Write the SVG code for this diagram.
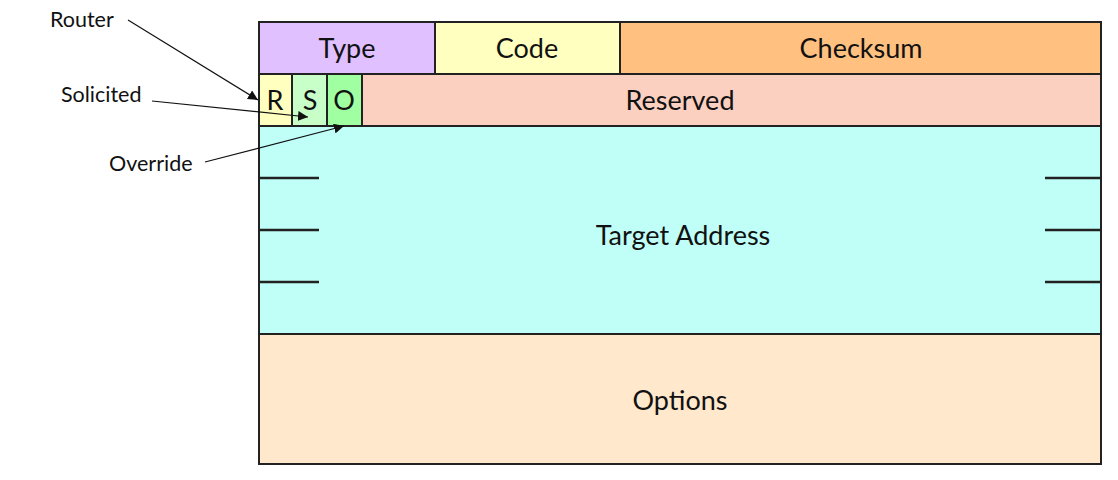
<svg xmlns="http://www.w3.org/2000/svg" width="1118" height="480" viewBox="0 0 1118 480">
<defs>
<style>
.f{stroke:#222;stroke-width:2}
.t{font-family:Lato,"Open Sans",sans-serif;font-size:27px;fill:#111;text-anchor:middle}
.l{font-family:Lato,"Open Sans",sans-serif;font-size:21.5px;fill:#111}
.tick{stroke:#222;stroke-width:2.5}
.c{stroke:#111;stroke-width:1.2;fill:none;marker-end:url(#ah)}
</style>
<marker id="ah" viewBox="0 0 10 10" refX="10" refY="5" markerWidth="10" markerHeight="10" markerUnits="userSpaceOnUse" orient="auto">
<path d="M0,0 L10,5 L0,10 z" fill="#111"/>
</marker>
</defs>
<rect width="1118" height="480" fill="#fff"/>
<g id="type"><rect class="f" x="259" y="22" width="176" height="52" fill="#E0C0FF"/><text class="t" x="347" y="58">Type</text></g>
<g id="code"><rect class="f" x="435" y="22" width="185" height="52" fill="#FFFFC0"/><text class="t" x="527" y="58">Code</text></g>
<g id="checksum"><rect class="f" x="620" y="22" width="481" height="52" fill="#FFC080"/><text class="t" x="861" y="58">Checksum</text></g>
<g id="r"><rect class="f" x="259" y="74" width="33" height="52" fill="#FFFFC0"/><text class="t" x="275" y="110">R</text></g>
<g id="s"><rect class="f" x="292" y="74" width="35" height="52" fill="#C8FFC8"/><text class="t" x="310" y="110">S</text></g>
<g id="o"><rect class="f" x="327" y="74" width="35" height="52" fill="#A0FFA0"/><text class="t" x="344" y="110">O</text></g>
<g id="reserved"><rect class="f" x="362" y="74" width="739" height="52" fill="#FCD0C0"/><text class="t" x="680" y="110">Reserved</text></g>
<g id="target"><rect class="f" x="259" y="126" width="842" height="208" fill="#C0FFF8"/>
<line class="tick" x1="259" y1="178" x2="319" y2="178"/><line class="tick" x1="259" y1="230" x2="319" y2="230"/><line class="tick" x1="259" y1="282" x2="319" y2="282"/>
<line class="tick" x1="1045" y1="178" x2="1101" y2="178"/><line class="tick" x1="1045" y1="230" x2="1101" y2="230"/><line class="tick" x1="1045" y1="282" x2="1101" y2="282"/>
<text class="t" x="683" y="245">Target Address</text></g>
<g id="options"><rect class="f" x="259" y="334" width="842" height="130" fill="#FFE8CC"/><text class="t" x="680" y="410">Options</text></g>
<g id="labels">
<text class="l" x="50" y="27">Router</text>
<text class="l" x="61" y="102">Solicited</text>
<text class="l" x="109" y="171">Override</text>
</g>
<g id="connectors">
<path class="c" d="M128,20 L258,100"/>
<path class="c" d="M152,101 L308,117"/>
<path class="c" d="M205,162 L344,126"/>
</g>
</svg>
